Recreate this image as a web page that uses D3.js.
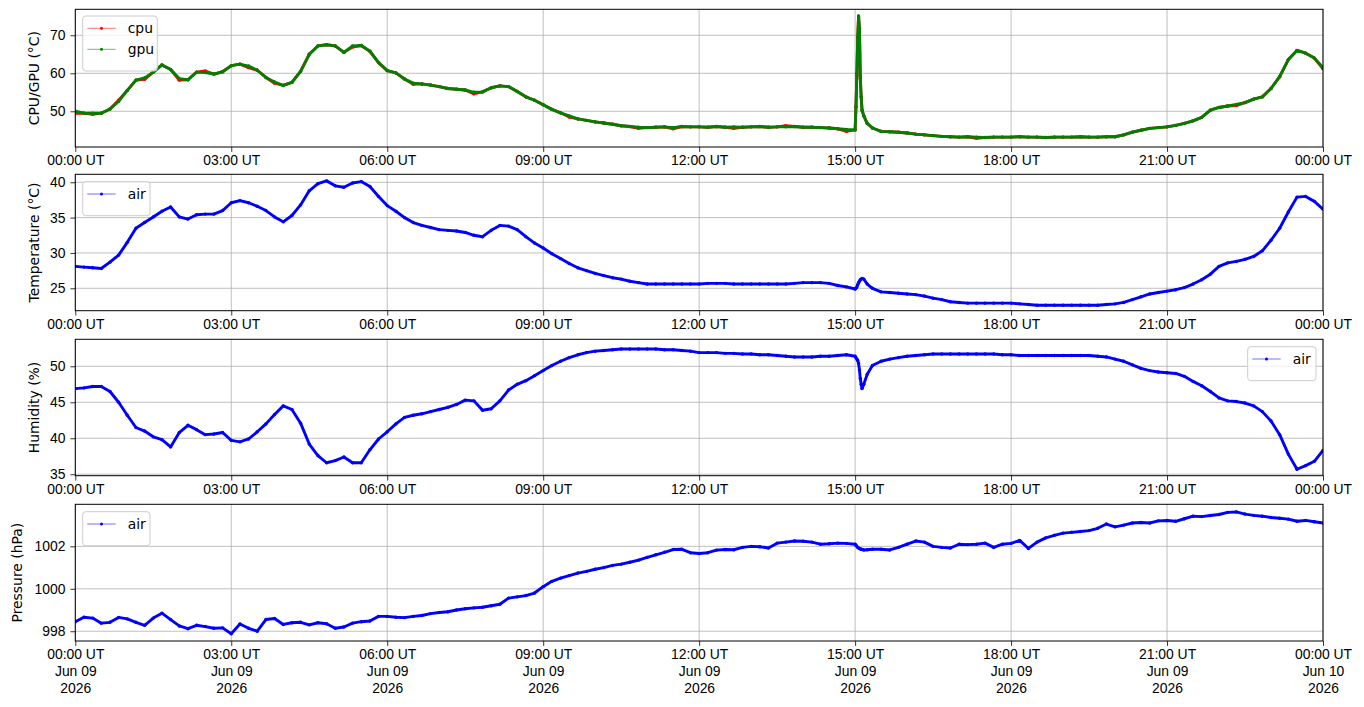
<!DOCTYPE html>
<html>
<head>
<meta charset="utf-8">
<script src="https://cdn.jsdelivr.net/npm/d3@7"></script>
<style>
  body { margin: 0; background: #fff; }
  svg { font-family: "DejaVu Sans", sans-serif; }
  .tick text { font-size: 13.9px; fill: #000; }
  .tick line { stroke: #000; stroke-width: 0.8; }
  .grid line { stroke: #b0b0b0; stroke-width: 0.8; }
  .ylabel { font-size: 13.9px; }
  .legend text { font-size: 13.9px; }
</style>
</head>
<body>
<svg id="chart" width="1364" height="707"></svg>
<script>
// sample times, minutes after 00:00 UT on Jun 09 2026 (denser around the 15:00 spike)
var minutes = [
  0, 10, 20, 30, 40, 50,
  60, 70, 80, 90, 100, 110,
  120, 130, 140, 150, 160, 170,
  180, 190, 200, 210, 220, 230,
  240, 250, 260, 270, 280, 290,
  300, 310, 320, 330, 340, 350,
  360, 370, 380, 390, 400, 410,
  420, 430, 440, 450, 460, 470,
  480, 490, 500, 510, 520, 530,
  540, 550, 560, 570, 580, 590,
  600, 610, 620, 630, 640, 650,
  660, 670, 680, 690, 700, 710,
  720, 730, 740, 750, 760, 770,
  780, 790, 800, 810, 820, 830,
  840, 850, 860, 870, 880, 890,
  900, 901, 902, 903, 904, 905, 906, 907, 908, 910, 914, 920,
  930, 940, 950,
  960, 970, 980, 990, 1000, 1010,
  1020, 1030, 1040, 1050, 1060, 1070,
  1080, 1090, 1100, 1110, 1120, 1130,
  1140, 1150, 1160, 1170, 1180, 1190,
  1200, 1210, 1220, 1230, 1240, 1250,
  1260, 1270, 1280, 1290, 1300, 1310,
  1320, 1330, 1340, 1350, 1360, 1370,
  1380, 1390, 1400, 1410, 1420, 1430,
  1440
];

var gpuTemp = [
  50.0, 49.5, 49.5, 49.5, 50.6, 52.6,
  55.5, 58.2, 58.8, 60.3, 62.2, 61.0,
  58.6, 58.3, 60.3, 60.2, 59.8, 60.4,
  62.0, 62.4, 61.9, 60.8, 58.9, 57.7,
  56.8, 57.6, 60.5, 65.0, 67.2, 67.5,
  67.2, 65.5, 67.2, 67.3, 65.8, 62.8,
  60.7, 60.1, 58.5, 57.4, 57.2, 56.9,
  56.5, 56.0, 55.8, 55.6, 55.0, 55.1,
  56.2, 56.7, 56.5, 55.2, 53.8, 52.9,
  51.7, 50.5, 49.6, 48.8, 48.0, 47.6,
  47.2, 46.9, 46.6, 46.2, 46.0, 45.8,
  45.7, 45.8, 45.9, 45.7, 46.0, 45.9,
  45.9, 45.8, 46.0, 45.8, 45.9, 45.8,
  45.9, 46.0, 45.8, 45.9, 45.9, 46.0,
  45.8, 45.8, 45.7, 45.6, 45.4, 45.2,
  45.1, 51.2, 60.0, 69.6, 75.1, 71.8, 59.1, 53.8, 50.3, 48.8, 46.8, 45.6,
  44.7, 44.6, 44.5,
  44.3, 44.0, 43.8, 43.6, 43.4, 43.3,
  43.2, 43.3, 43.2, 43.1, 43.2, 43.2,
  43.2, 43.3, 43.2, 43.2, 43.1, 43.2,
  43.2, 43.2, 43.3, 43.2, 43.2, 43.3,
  43.3, 43.8, 44.5, 45.0, 45.5, 45.7,
  45.9, 46.3, 46.8, 47.5, 48.4, 50.3,
  51.0, 51.4, 51.8, 52.3, 53.2, 53.8,
  56.0, 59.1, 63.6, 66.0, 65.3, 64.0,
  61.5
];

var cpuTemp = [
  49.5, 49.5, 49.2, 49.5, 50.6, 52.9,
  55.5, 58.2, 58.4, 60.3, 62.2, 61.0,
  58.2, 58.3, 60.3, 60.6, 59.8, 60.4,
  62.0, 62.4, 61.5, 60.8, 58.9, 57.4,
  56.8, 57.6, 60.5, 65.0, 67.2, 67.5,
  67.2, 65.5, 66.9, 67.3, 65.8, 62.8,
  60.7, 60.1, 58.5, 57.1, 57.2, 56.9,
  56.5, 56.0, 55.8, 55.6, 54.6, 55.1,
  56.2, 56.7, 56.5, 55.2, 53.8, 52.9,
  51.7, 50.5, 49.6, 48.5, 48.0, 47.6,
  47.2, 46.9, 46.6, 46.2, 46.0, 45.5,
  45.7, 45.8, 45.9, 45.4, 46.0, 45.9,
  45.9, 45.8, 46.0, 45.8, 45.5, 45.8,
  45.9, 46.0, 45.8, 45.9, 46.2, 46.0,
  45.8, 45.8, 45.7, 45.6, 45.4, 44.7,
  45.1, 51.2, 59.4, 69.3, 74.8, 71.8, 58.6, 53.8, 50.3, 48.8, 46.8, 45.6,
  44.7, 44.6, 44.5,
  44.3, 44.0, 43.8, 43.6, 43.4, 43.3,
  43.2, 43.3, 42.9, 43.1, 43.2, 43.2,
  43.2, 43.3, 43.2, 43.2, 43.1, 43.2,
  43.2, 43.2, 43.3, 43.2, 43.2, 43.3,
  43.3, 43.8, 44.5, 45.0, 45.5, 45.7,
  45.9, 46.3, 46.8, 47.5, 48.4, 50.3,
  51.0, 51.4, 51.5, 52.3, 53.2, 53.8,
  56.0, 59.1, 63.6, 66.0, 65.3, 64.0,
  61.2
];

var airTemp = [
  28.1, 28.0, 27.9, 27.8, 28.7, 29.7,
  31.5, 33.5, 34.3, 35.1, 35.9, 36.5,
  35.1, 34.8, 35.4, 35.5, 35.5, 36.0,
  37.1, 37.4, 37.1, 36.6, 36.0, 35.1,
  34.4, 35.3, 36.8, 38.8, 39.8, 40.2,
  39.5, 39.3, 39.9, 40.1, 39.4, 38.0,
  36.7, 35.9, 35.0, 34.3, 33.9, 33.6,
  33.3, 33.2, 33.1, 32.9, 32.5, 32.3,
  33.2, 33.9, 33.8, 33.3, 32.3, 31.4,
  30.7, 29.9, 29.2, 28.5, 27.9, 27.5,
  27.1, 26.8, 26.5, 26.3, 26.0, 25.8,
  25.6, 25.6, 25.6, 25.6, 25.6, 25.6,
  25.6, 25.7, 25.7, 25.7, 25.6, 25.6,
  25.6, 25.6, 25.6, 25.6, 25.6, 25.7,
  25.8, 25.8, 25.8, 25.7, 25.4, 25.2,
  24.9, 25.0, 25.2, 25.5, 25.8, 26.0, 26.2, 26.3, 26.4, 26.3, 25.6, 25.0,
  24.5, 24.4, 24.3,
  24.2, 24.1, 23.9, 23.6, 23.4, 23.1,
  23.0, 22.9, 22.9, 22.9, 22.9, 22.9,
  22.9, 22.8, 22.7, 22.6, 22.6, 22.6,
  22.6, 22.6, 22.6, 22.6, 22.6, 22.7,
  22.8, 23.0, 23.4, 23.8, 24.2, 24.4,
  24.6, 24.8, 25.1, 25.6, 26.2, 27.0,
  28.1, 28.6, 28.8, 29.1, 29.5, 30.3,
  31.8, 33.5, 35.8, 37.9, 38.0, 37.3,
  36.2
];

var airHumidity = [
  46.9, 47.0, 47.2, 47.2, 46.5, 45.0,
  43.2, 41.5, 41.0, 40.2, 39.8, 38.8,
  40.8, 41.8, 41.2, 40.5, 40.6, 40.8,
  39.7, 39.5, 39.9, 40.9, 42.0, 43.3,
  44.5, 44.0, 42.1, 39.2, 37.6, 36.6,
  36.9, 37.4, 36.6, 36.6, 38.4, 39.9,
  40.9, 42.0, 42.9, 43.2, 43.4, 43.7,
  44.0, 44.3, 44.7, 45.3, 45.2, 43.9,
  44.1, 45.2, 46.7, 47.5, 48.0, 48.7,
  49.4, 50.1, 50.7, 51.2, 51.6, 51.9,
  52.1, 52.2, 52.3, 52.4, 52.4, 52.4,
  52.4, 52.4, 52.3, 52.3, 52.2, 52.1,
  51.9, 51.9, 51.9, 51.8, 51.8, 51.7,
  51.7, 51.6, 51.6, 51.5, 51.4, 51.3,
  51.3, 51.3, 51.4, 51.4, 51.5, 51.6,
  51.4, 51.2, 51.0, 50.8, 50.4, 49.5, 48.3, 47.5, 46.9, 47.5, 48.9, 50.1,
  50.7, 51.0, 51.2,
  51.4, 51.5, 51.6, 51.7, 51.7, 51.7,
  51.7, 51.7, 51.7, 51.7, 51.7, 51.6,
  51.6, 51.5, 51.5, 51.5, 51.5, 51.5,
  51.5, 51.5, 51.5, 51.5, 51.4, 51.3,
  51.0, 50.7, 50.2, 49.7, 49.4, 49.2,
  49.1, 49.0, 48.6, 47.9, 47.3, 46.5,
  45.6, 45.2, 45.1, 44.9, 44.5, 43.7,
  42.4, 40.5, 37.8, 35.7, 36.2, 36.8,
  38.3
];

var airPressure = [
  998.45, 998.66, 998.62, 998.38, 998.42, 998.65,
  998.58, 998.42, 998.28, 998.62, 998.85, 998.55,
  998.25, 998.12, 998.28, 998.22, 998.14, 998.16,
  997.88, 998.34, 998.14, 998.00, 998.55, 998.60,
  998.32, 998.40, 998.42, 998.30, 998.40, 998.35,
  998.14, 998.20, 998.38, 998.45, 998.48, 998.70,
  998.70, 998.66, 998.64, 998.70, 998.74, 998.83,
  998.88, 998.92, 999.00, 999.06, 999.10, 999.13,
  999.20, 999.27, 999.56, 999.62, 999.68, 999.80,
  1000.10, 1000.35, 1000.50, 1000.62, 1000.74, 1000.82,
  1000.92, 1001.00, 1001.10, 1001.16, 1001.25, 1001.35,
  1001.48, 1001.60, 1001.72, 1001.85, 1001.86, 1001.70,
  1001.66, 1001.70, 1001.82, 1001.85, 1001.84, 1001.95,
  1002.00, 1001.98, 1001.92, 1002.15, 1002.20, 1002.25,
  1002.24, 1002.20, 1002.10, 1002.12, 1002.15, 1002.14,
  1002.10, 1002.05, 1002.00, 1001.95, 1001.92, 1001.90, 1001.88, 1001.86, 1001.85, 1001.83, 1001.84, 1001.86,
  1001.86, 1001.83, 1001.95,
  1002.10, 1002.25, 1002.20, 1002.00, 1001.95, 1001.92,
  1002.10, 1002.08, 1002.10, 1002.15, 1001.95, 1002.10,
  1002.14, 1002.28, 1001.90, 1002.20, 1002.40, 1002.52,
  1002.62, 1002.66, 1002.70, 1002.74, 1002.85, 1003.05,
  1002.92, 1003.00, 1003.10, 1003.12, 1003.10, 1003.20,
  1003.22, 1003.18, 1003.30, 1003.42, 1003.40, 1003.45,
  1003.50, 1003.60, 1003.62, 1003.52, 1003.46, 1003.42,
  1003.36, 1003.32, 1003.28, 1003.18, 1003.22, 1003.16,
  1003.10
];

// tick values for the y axes
var cpuTicks = [50, 60, 70];
var tempTicks = [25, 30, 35, 40];
var humTicks = [35, 40, 45, 50];
var presTicks = [998, 1000, 1002];

var svg = d3.select("#chart");
var left = 75.3, right = 1323;
var tickLen = 4.9;

var start = Date.UTC(2026, 5, 9);
var times = minutes.map(function (m) { return new Date(start + m * 60000); });

var x = d3.scaleUtc()
  .domain([new Date(start), new Date(start + 24 * 3600000)])
  .range([left, right]);
var xTicks = x.ticks(d3.utcHour.every(3));
var fmtTime = d3.utcFormat("%H:%M UT");
var fmtDay = d3.utcFormat("%b %d");
var fmtYear = d3.utcFormat("%Y");

var panels = [
  { top: 9.3, bottom: 147, domain: [40.6, 76.84], ticks: cpuTicks, label: "CPU/GPU (\u00b0C)", labelX: 33.5,
    series: [{ name: "cpu", values: cpuTemp, color: "#ff0000" }, { name: "gpu", values: gpuTemp, color: "#008000" }],
    legend: { x: 82.7, y: 16, w: 74.6 } },
  { top: 174.3, bottom: 310.7, domain: [21.83, 41.13], ticks: tempTicks, label: "Temperature (\u00b0C)", labelX: 33.5,
    series: [{ name: "air", values: airTemp, color: "#0000ff" }],
    legend: { x: 82.7, y: 181.7, w: 67.3 } },
  { top: 339.3, bottom: 475.7, domain: [34.8, 53.75], ticks: humTicks, label: "Humidity (%)", labelX: 34,
    series: [{ name: "air", values: airHumidity, color: "#0000ff" }],
    legend: { x: 1247.7, y: 346.7, w: 68.3 } },
  { top: 504.3, bottom: 641, domain: [997.54, 1003.98], ticks: presTicks, label: "Pressure (hPa)", labelX: 16.5,
    series: [{ name: "air", values: airPressure, color: "#0000ff" }],
    legend: { x: 82.7, y: 511.7, w: 67.3 } }
];

panels.forEach(function (p, pi) {
  var y = d3.scaleLinear().domain(p.domain).range([p.bottom, p.top]);
  var g = svg.append("g");
  var last = pi === panels.length - 1;

  // grid
  var grid = g.append("g").attr("class", "grid");
  grid.selectAll(".gx").data(xTicks).enter().append("line")
    .attr("x1", function (d) { return x(d); }).attr("x2", function (d) { return x(d); })
    .attr("y1", p.top).attr("y2", p.bottom);
  grid.selectAll(".gy").data(p.ticks).enter().append("line")
    .attr("x1", left).attr("x2", right)
    .attr("y1", function (d) { return y(d); }).attr("y2", function (d) { return y(d); });

  // data: dense markers look like a thick band, so a wide stroke plus dots
  var clipId = "clip" + pi;
  svg.append("clipPath").attr("id", clipId).append("rect")
    .attr("x", left).attr("y", p.top).attr("width", right - left).attr("height", p.bottom - p.top);
  var plot = g.append("g").attr("clip-path", "url(#" + clipId + ")");
  p.series.forEach(function (s) {
    var line = d3.line()
      .x(function (d, i) { return x(times[i]); })
      .y(function (d) { return y(d); });
    plot.append("path")
      .datum(s.values)
      .attr("d", line)
      .attr("fill", "none")
      .attr("stroke", s.color)
      .attr("stroke-width", 2.9)
      .attr("stroke-linejoin", "round");
    plot.selectAll(null).data(s.values).enter().append("circle")
      .attr("cx", function (d, i) { return x(times[i]); })
      .attr("cy", function (d) { return y(d); })
      .attr("r", 1.7)
      .attr("fill", s.color);
  });

  // axes
  var xAxis = d3.axisBottom(x).tickValues(xTicks).tickSize(tickLen).tickPadding(3.5)
    .tickFormat(function (d) { return fmtTime(d); });
  var gx = g.append("g").attr("transform", "translate(0," + p.bottom + ")").call(xAxis);
  gx.select(".domain").remove();
  if (last) {
    gx.selectAll(".tick text").each(function (d) {
      var t = d3.select(this).text("");
      [fmtTime(d), fmtDay(d), fmtYear(d)].forEach(function (str, k) {
        t.append("tspan").attr("x", 0).attr("dy", k === 0 ? "0.71em" : "1.2em").text(str);
      });
    });
  }

  var yAxis = d3.axisLeft(y).tickValues(p.ticks).tickSize(tickLen).tickPadding(4.9)
    .tickFormat(d3.format("d"));
  var gy = g.append("g").attr("transform", "translate(" + left + ",0)").call(yAxis);
  gy.select(".domain").remove();

  // frame
  g.append("rect")
    .attr("x", left).attr("y", p.top)
    .attr("width", right - left).attr("height", p.bottom - p.top)
    .attr("fill", "none").attr("stroke", "#000").attr("stroke-width", 1);

  // y label
  g.append("text").attr("class", "ylabel")
    .attr("transform", "translate(" + p.labelX + "," + ((p.top + p.bottom) / 2) + ") rotate(-90)")
    .attr("text-anchor", "middle")
    .attr("dominant-baseline", "central")
    .text(p.label);

  // legend
  var lg = g.append("g").attr("class", "legend")
    .attr("transform", "translate(" + p.legend.x + "," + p.legend.y + ")");
  var rowH = 21;
  lg.append("rect")
    .attr("width", p.legend.w).attr("height", 10 + rowH * p.series.length + 3)
    .attr("rx", 3).attr("fill", "#fff").attr("fill-opacity", 0.8)
    .attr("stroke", "#cccccc").attr("stroke-width", 1);
  p.series.forEach(function (s, k) {
    var cy = 12.3 + k * rowH;
    lg.append("line").attr("x1", 4.6).attr("x2", 33).attr("y1", cy).attr("y2", cy)
      .attr("stroke", s.color).attr("stroke-width", 0.8).attr("stroke-opacity", 0.7);
    lg.append("circle").attr("cx", 18.8).attr("cy", cy).attr("r", 1.5).attr("fill", s.color);
    lg.append("text").attr("x", 45).attr("y", cy).attr("dominant-baseline", "central").text(s.name);
  });
});
</script>
</body>
</html>
